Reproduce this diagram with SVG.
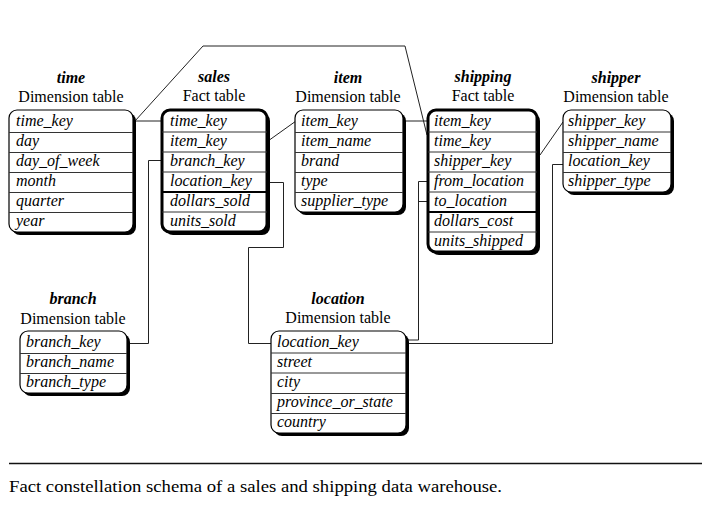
<svg xmlns="http://www.w3.org/2000/svg" width="712" height="517" viewBox="0 0 712 517">
<style>
.bg{fill:#fff}
.shadow{fill:#000}
.dim{fill:#fff;stroke:#000;stroke-width:1.2}
.fact{fill:#fff;stroke:#000;stroke-width:3}
.row{stroke:#333;stroke-width:1}
.sep{stroke:#000;stroke-width:2}
.fld{font-family:"Liberation Serif",serif;font-style:italic;font-size:16px;fill:#000}
.ttl{font-family:"Liberation Serif",serif;font-style:italic;font-weight:bold;font-size:16px;text-anchor:middle;fill:#000}
.sub{font-family:"Liberation Serif",serif;font-size:16px;text-anchor:middle;fill:#000}
.conn{fill:none;stroke:#222;stroke-width:1}
.cap{font-family:"Liberation Serif",serif;font-size:17px;fill:#000}
</style>
<rect class="bg" x="0" y="0" width="712" height="517"/>

<g id="connectors">
<path class="conn" d="M135,121 L162,121"/>
<path class="conn" d="M135,121 L203,46 L405,46 L427,135"/>
<path class="conn" d="M268,141 L296,121"/>
<path class="conn" d="M405,121 L428,121"/>
<path class="conn" d="M162,160.5 L148.5,160.5 L148.5,343.5 L129,343.5"/>
<path class="conn" d="M268,182.5 L283.5,182.5 L283.5,247.5 L248.5,247.5 L248.5,343.5 L271,343.5"/>
<path class="conn" d="M428,181.5 L418.5,181.5 L418.5,340 L408,340"/>
<path class="conn" d="M428,201.5 L418.5,201.5"/>
<path class="conn" d="M563,164.5 L552.5,164.5 L552.5,343.5 L408,343.5"/>
<path class="conn" d="M540,155 L563,122"/>
</g>

<g id="time">
<text class="ttl" x="71" y="83">time</text>
<text class="sub" x="71" y="102">Dimension table</text>
<rect class="shadow" x="12" y="113" width="124" height="122" rx="8"/>
<rect class="dim" x="9" y="110" width="124" height="122" rx="8"/>
<line class="row" x1="9" y1="132.5" x2="133" y2="132.5"/>
<line class="row" x1="9" y1="152.5" x2="133" y2="152.5"/>
<line class="row" x1="9" y1="172.5" x2="133" y2="172.5"/>
<line class="row" x1="9" y1="192.5" x2="133" y2="192.5"/>
<line class="row" x1="9" y1="212.5" x2="133" y2="212.5"/>
<text class="fld" x="16" y="126">time_key</text>
<text class="fld" x="16" y="146">day</text>
<text class="fld" x="16" y="166">day_of_week</text>
<text class="fld" x="16" y="186">month</text>
<text class="fld" x="16" y="206">quarter</text>
<text class="fld" x="16" y="226">year</text>
</g>

<g id="sales">
<text class="ttl" x="214" y="82">sales</text>
<text class="sub" x="214" y="101">Fact table</text>
<rect class="shadow" x="165" y="113" width="105" height="122" rx="8"/>
<rect class="fact" x="162" y="110" width="105" height="122" rx="8"/>
<line class="row" x1="162" y1="132" x2="267" y2="132"/>
<line class="row" x1="162" y1="152" x2="267" y2="152"/>
<line class="row" x1="162" y1="172" x2="267" y2="172"/>
<line class="sep" x1="162" y1="192" x2="267" y2="192"/>
<line class="row" x1="162" y1="212" x2="267" y2="212"/>
<text class="fld" x="170" y="126">time_key</text>
<text class="fld" x="170" y="146">item_key</text>
<text class="fld" x="170" y="166">branch_key</text>
<text class="fld" x="170" y="186">location_key</text>
<text class="fld" x="170" y="206">dollars_sold</text>
<text class="fld" x="170" y="226">units_sold</text>
</g>

<g id="item">
<text class="ttl" x="348" y="83">item</text>
<text class="sub" x="348" y="102">Dimension table</text>
<rect class="shadow" x="298" y="113" width="108" height="102" rx="8"/>
<rect class="dim" x="295" y="110" width="108" height="102" rx="8"/>
<line class="row" x1="295" y1="132.5" x2="403" y2="132.5"/>
<line class="row" x1="295" y1="152.5" x2="403" y2="152.5"/>
<line class="row" x1="295" y1="172.5" x2="403" y2="172.5"/>
<line class="row" x1="295" y1="192.5" x2="403" y2="192.5"/>
<text class="fld" x="301" y="126">item_key</text>
<text class="fld" x="301" y="146">item_name</text>
<text class="fld" x="301" y="166">brand</text>
<text class="fld" x="301" y="186">type</text>
<text class="fld" x="301" y="206">supplier_type</text>
</g>

<g id="shipping">
<text class="ttl" x="483" y="82">shipping</text>
<text class="sub" x="483" y="101">Fact table</text>
<rect class="shadow" x="431" y="113" width="109" height="142" rx="8"/>
<rect class="fact" x="428" y="110" width="109" height="142" rx="8"/>
<line class="row" x1="428" y1="132" x2="537" y2="132"/>
<line class="row" x1="428" y1="152" x2="537" y2="152"/>
<line class="row" x1="428" y1="172" x2="537" y2="172"/>
<line class="row" x1="428" y1="192" x2="537" y2="192"/>
<line class="sep" x1="428" y1="212" x2="537" y2="212"/>
<line class="row" x1="428" y1="232" x2="537" y2="232"/>
<text class="fld" x="434" y="126">item_key</text>
<text class="fld" x="434" y="146">time_key</text>
<text class="fld" x="434" y="166">shipper_key</text>
<text class="fld" x="434" y="186">from_location</text>
<text class="fld" x="434" y="206">to_location</text>
<text class="fld" x="434" y="226">dollars_cost</text>
<text class="fld" x="434" y="246">units_shipped</text>
</g>

<g id="shipper">
<text class="ttl" x="616" y="83">shipper</text>
<text class="sub" x="616" y="102">Dimension table</text>
<rect class="shadow" x="566" y="113" width="108" height="82" rx="8"/>
<rect class="dim" x="563" y="110" width="108" height="82" rx="8"/>
<line class="row" x1="563" y1="132" x2="671" y2="132"/>
<line class="row" x1="563" y1="152.5" x2="671" y2="152.5"/>
<line class="row" x1="563" y1="172.5" x2="671" y2="172.5"/>
<text class="fld" x="568" y="126">shipper_key</text>
<text class="fld" x="568" y="146">shipper_name</text>
<text class="fld" x="568" y="166">location_key</text>
<text class="fld" x="568" y="186">shipper_type</text>
</g>

<g id="branch">
<text class="ttl" x="73" y="304">branch</text>
<text class="sub" x="73" y="324">Dimension table</text>
<rect class="shadow" x="23" y="334" width="107" height="62" rx="8"/>
<rect class="dim" x="20" y="331" width="107" height="62" rx="8"/>
<line class="row" x1="20" y1="353.5" x2="127" y2="353.5"/>
<line class="row" x1="20" y1="373.5" x2="127" y2="373.5"/>
<text class="fld" x="26" y="347">branch_key</text>
<text class="fld" x="26" y="367">branch_name</text>
<text class="fld" x="26" y="387">branch_type</text>
</g>

<g id="location">
<text class="ttl" x="338" y="304">location</text>
<text class="sub" x="338" y="323">Dimension table</text>
<rect class="shadow" x="274" y="334" width="135" height="102" rx="8"/>
<rect class="dim" x="271" y="331" width="135" height="102" rx="8"/>
<line class="row" x1="271" y1="353" x2="406" y2="353"/>
<line class="row" x1="271" y1="373" x2="406" y2="373"/>
<line class="row" x1="271" y1="393.5" x2="406" y2="393.5"/>
<line class="row" x1="271" y1="413.5" x2="406" y2="413.5"/>
<text class="fld" x="277" y="347">location_key</text>
<text class="fld" x="277" y="367">street</text>
<text class="fld" x="277" y="387">city</text>
<text class="fld" x="277" y="407">province_or_state</text>
<text class="fld" x="277" y="427">country</text>
</g>

<line x1="9" y1="463.5" x2="702" y2="463.5" stroke="#111" stroke-width="1.5"/>
<text class="cap" x="9" y="492" textLength="493" lengthAdjust="spacingAndGlyphs">Fact constellation schema of a sales and shipping data warehouse.</text>
</svg>
